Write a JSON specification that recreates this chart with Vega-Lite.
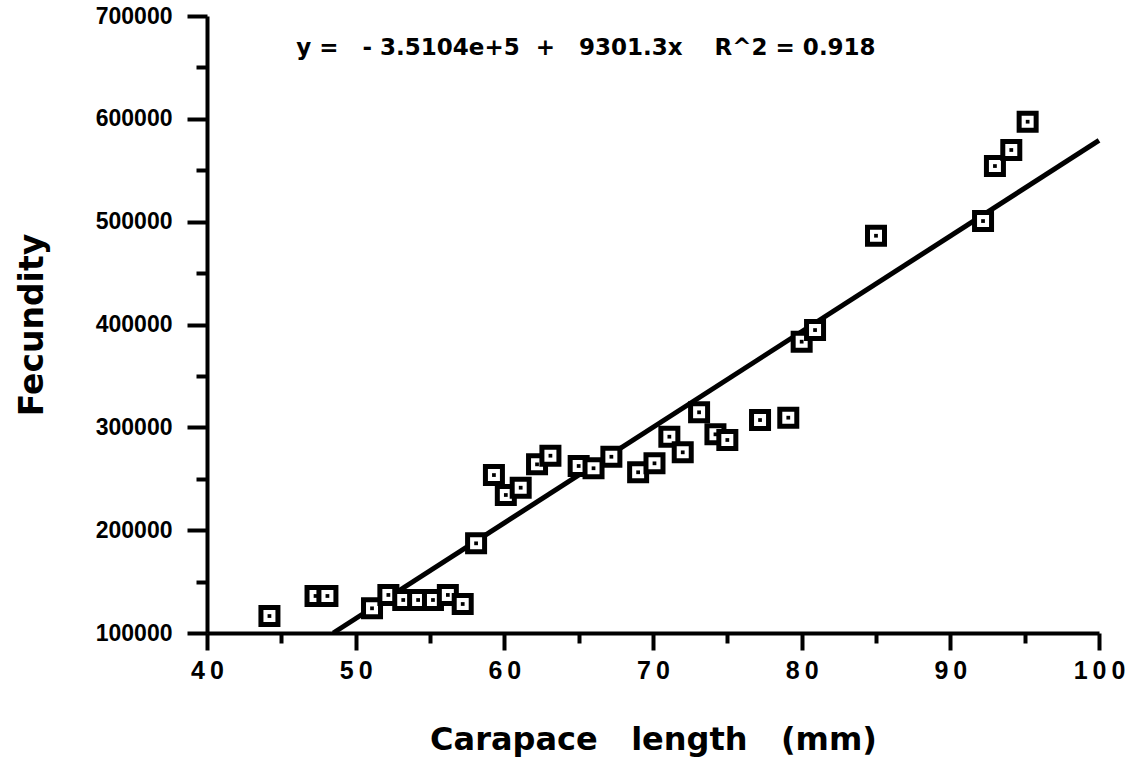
{
  "$schema": "https://vega.github.io/schema/vega-lite/v6.json",
  "autosize": {"type": "none"},
  "width": 892,
  "height": 617,
  "padding": {"left": 207, "top": 16, "right": 30, "bottom": 126},
  "background": "white",
  "config": {"view": {"stroke": null}},
  "datasets": {
    "points": [
      {"length": 44.2, "fecundity": 116500},
      {"length": 47.3, "fecundity": 136000},
      {"length": 48.1, "fecundity": 136000},
      {"length": 51.1, "fecundity": 124000},
      {"length": 52.2, "fecundity": 137000},
      {"length": 53.2, "fecundity": 132100},
      {"length": 54.2, "fecundity": 132100},
      {"length": 55.2, "fecundity": 132100},
      {"length": 56.2, "fecundity": 137000},
      {"length": 57.2, "fecundity": 128200},
      {"length": 58.1, "fecundity": 187200},
      {"length": 59.3, "fecundity": 253600},
      {"length": 60.1, "fecundity": 234200},
      {"length": 61.1, "fecundity": 241300},
      {"length": 62.2, "fecundity": 264000},
      {"length": 63.1, "fecundity": 272400},
      {"length": 65.0, "fecundity": 262400},
      {"length": 66.0, "fecundity": 260200},
      {"length": 67.2, "fecundity": 271400},
      {"length": 69.0, "fecundity": 256300},
      {"length": 70.1, "fecundity": 265000},
      {"length": 71.1, "fecundity": 290900},
      {"length": 72.0, "fecundity": 275700},
      {"length": 73.1, "fecundity": 314600},
      {"length": 74.2, "fecundity": 293200},
      {"length": 75.0, "fecundity": 287700},
      {"length": 77.2, "fecundity": 307100},
      {"length": 79.1, "fecundity": 309400},
      {"length": 80.0, "fecundity": 383300},
      {"length": 80.9, "fecundity": 394600},
      {"length": 85.0, "fecundity": 486300},
      {"length": 92.2, "fecundity": 500600},
      {"length": 93.0, "fecundity": 554100},
      {"length": 94.1, "fecundity": 569700},
      {"length": 95.2, "fecundity": 597200}
    ],
    "fit": [
      {"length": 48.49, "fecundity": 100000},
      {"length": 100, "fecundity": 579090}
    ],
    "note": [
      {"length": 46.0, "fecundity": 669000, "label": "y = \u00a0\u00a0- 3.5104e+5 \u00a0+ \u00a0\u00a09301.3x \u00a0\u00a0\u00a0R^2 = 0.918"}
    ]
  },
  "encoding": {
    "x": {
      "field": "length",
      "type": "quantitative",
      "scale": {"domain": [40, 100], "zero": false, "nice": false},
      "axis": {
        "values": [40, 45, 50, 55, 60, 65, 70, 75, 80, 85, 90, 95, 100],
        "labelExpr": "datum.value % 10 === 0 ? join(split(datum.label, ''), '\u2009') : ''",
        "tickSize": {"condition": {"test": "datum.value % 10 === 0", "value": 17}, "value": 10},
        "tickWidth": 4,
        "tickColor": "black",
        "domainWidth": 4,
        "domainColor": "black",
        "grid": false,
        "labelFont": "Liberation Sans",
        "labelFontWeight": "bold",
        "labelFontSize": 25,
        "labelColor": "black",
        "labelPadding": 8,
        "labelFlush": false,
        "labelOverlap": false,
        "title": "Carapace\u00a0\u00a0\u00a0length\u00a0\u00a0\u00a0(mm)",
        "titleFont": "DejaVu Sans",
        "titleFontSize": 32,
        "titleFontWeight": "bold",
        "titleColor": "black",
        "titlePadding": 41
      }
    },
    "y": {
      "field": "fecundity",
      "type": "quantitative",
      "scale": {"domain": [100000, 700000], "zero": false, "nice": false},
      "axis": {
        "values": [100000, 150000, 200000, 250000, 300000, 350000, 400000, 450000, 500000, 550000, 600000, 650000, 700000],
        "format": "d",
        "labelExpr": "datum.value % 100000 === 0 ? datum.label : ''",
        "tickSize": {"condition": {"test": "datum.value % 100000 === 0", "value": 20}, "value": 11},
        "tickWidth": 4,
        "tickColor": "black",
        "domainWidth": 4,
        "domainColor": "black",
        "grid": false,
        "labelFont": "Liberation Sans",
        "labelFontWeight": "bold",
        "labelFontSize": 23,
        "labelColor": "black",
        "labelPadding": 15,
        "labelFlush": false,
        "labelOverlap": false,
        "title": "Fecundity",
        "titleFont": "DejaVu Sans",
        "titleFontSize": 33,
        "titleFontWeight": "bold",
        "titleColor": "black",
        "titlePadding": 46
      }
    }
  },
  "layer": [
    {
      "data": {"name": "fit"},
      "mark": {"type": "line", "color": "black", "strokeWidth": 5, "strokeCap": "butt"}
    },
    {
      "data": {"name": "points"},
      "mark": {"type": "point", "shape": "square", "size": 289, "filled": true, "fill": "white", "stroke": "black", "strokeWidth": 5, "opacity": 1}
    },
    {
      "data": {"name": "points"},
      "mark": {"type": "point", "shape": "square", "size": 14, "filled": true, "color": "black", "opacity": 1}
    },
    {
      "data": {"name": "note"},
      "mark": {"type": "text", "align": "left", "baseline": "middle", "font": "DejaVu Sans", "fontWeight": "bold", "fontSize": 23, "color": "black"},
      "encoding": {"text": {"field": "label", "type": "nominal"}}
    }
  ]
}
